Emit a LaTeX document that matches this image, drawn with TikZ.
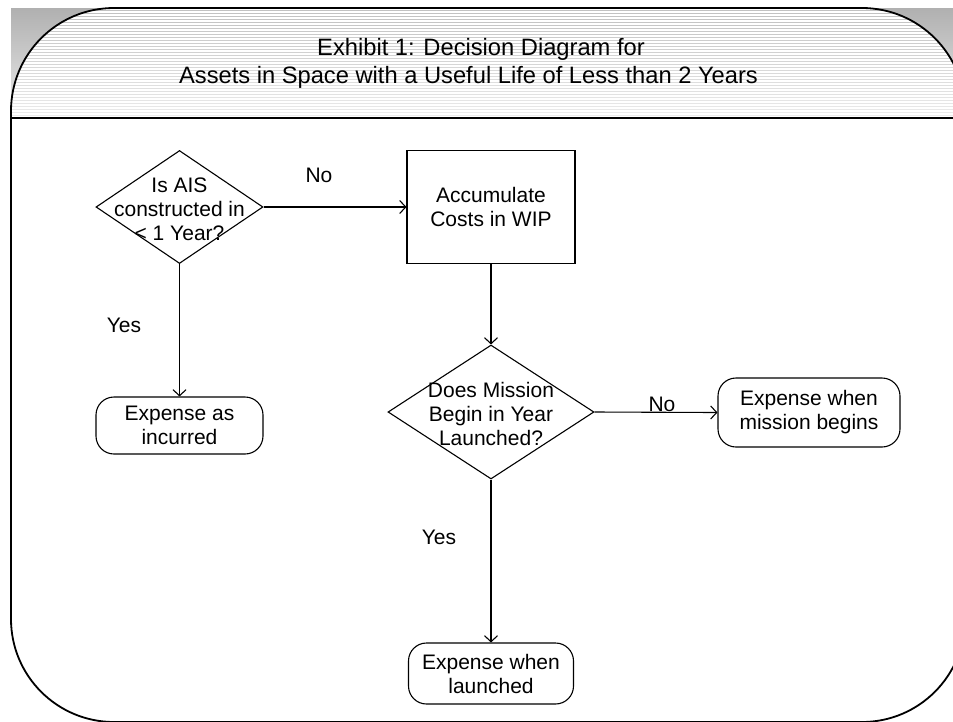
\documentclass[tikz,border=0pt]{standalone}
\usepackage{fontspec}
\setmainfont{Liberation Sans}
\usetikzlibrary{arrows.meta,shapes.geometric}
\definecolor{hdrtop}{RGB}{176,176,176}
\definecolor{hdrbot}{RGB}{236,236,236}
\begin{document}
\begin{tikzpicture}[x=1pt,y=-1pt,
  txt/.style={inner sep=0pt, align=center, font=\fontsize{21}{24}\selectfont},
  ttl/.style={inner sep=0pt, font=\fontsize{23.7}{28}\selectfont},
  dia/.style={draw, line width=1.1pt, diamond, inner sep=0pt},
  rectbox/.style={draw, line width=1.1pt, rectangle, inner sep=0pt, align=center, font=\fontsize{21}{24}\selectfont},
  term/.style={draw, line width=1.1pt, rectangle, rounded corners=18pt, inner sep=0pt, align=center, font=\fontsize{21}{24}\selectfont},
  arr/.style={line width=1.1pt, -{Straight Barb[length=6pt,width=13pt]}},
  frameline/.style={line width=1.8pt, black}
]
\useasboundingbox (0,0) rectangle (953,721);
% header band
\begin{scope}
  \clip (11,8) rectangle (953,118);
  \shade[top color=hdrtop, bottom color=hdrbot] (11,8) rectangle (953,118);
  \begin{scope}
    \clip[rounded corners=103pt] (11,8) rectangle (965,722);
    \shade[top color=hdrtop!80!white, bottom color=hdrbot] (11,8) rectangle (953,118);
    \foreach \yy in {9,12,...,117} \draw[white, line width=1.3pt] (0,\yy) -- (953,\yy);
  \end{scope}
\end{scope}
% frame
\draw[frameline, rounded corners=103pt] (11,8) rectangle (965,722);
\draw[frameline] (11,118) -- (953,118);
% title
\node[ttl, anchor=base] (t1) at (481,55) {Exhibit 1: Decision Diagram for};
\node[ttl, anchor=base] (t2) at (468.5,83) {Assets in Space with a Useful Life of Less than 2 Years};
% shapes
\node[dia, minimum width=167pt, minimum height=113pt] (d1) at (179.5,207) {};
\node[txt] (d1t) at ([yshift=-2pt]d1.center) {Is AIS\\constructed in\\< 1 Year?};
\node[rectbox, minimum width=168pt, minimum height=113pt] (acc) at (491,207) {Accumulate\\Costs in WIP};
\node[dia, minimum width=206pt, minimum height=134pt] (d2) at (491,412) {};
\node[txt] (d2t) at ([yshift=-2pt]d2.center) {Does Mission\\Begin in Year\\Launched?};
\node[term, minimum width=167pt, minimum height=57pt] (e1) at (179.5,425.5) {Expense as\\incurred};
\node[term, minimum width=182pt, minimum height=69pt] (e2) at (809,412.5) {Expense when\\mission begins};
\node[term, minimum width=165pt, minimum height=61pt] (e3) at (491,673.5) {Expense when\\launched};
% connectors
\draw[arr] (d1.east) -- (acc.west);
\draw[arr] (acc.south) -- (d2.north);
\draw[arr] (d1.south) -- (e1.north);
\draw[arr] (d2.east) -- (e2.west);
\draw[arr] (d2.south) -- (e3.north);
% labels
\node[txt] (no1) at (319,175) {No};
\node[txt] (yes1) at (124,325) {Yes};
\node[txt] (no2) at (662,404) {No};
\node[txt] (yes2) at (439,537) {Yes};
\end{tikzpicture}
\end{document}
